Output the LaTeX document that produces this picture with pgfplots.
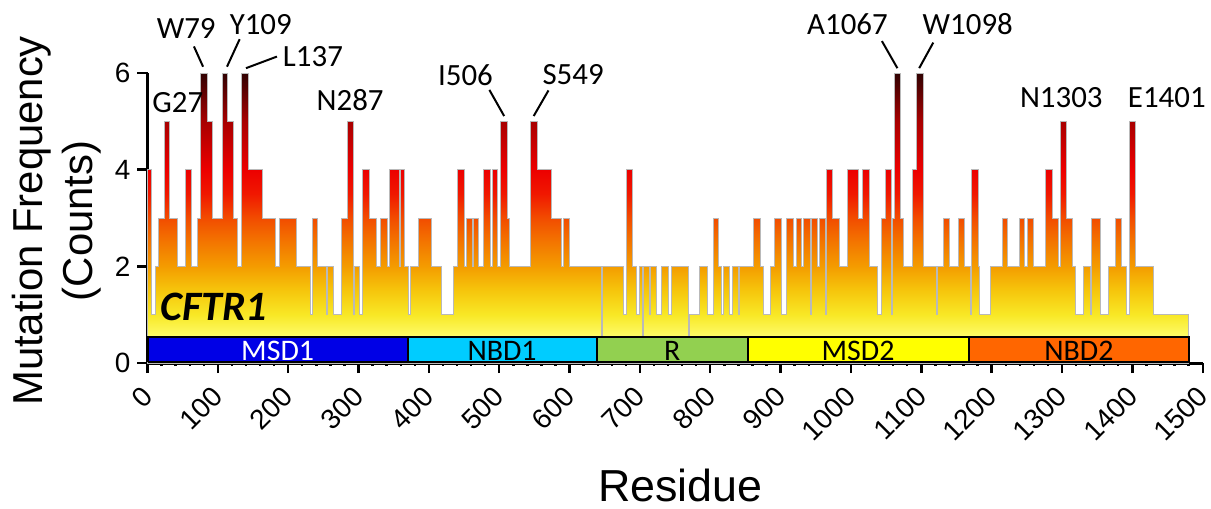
\documentclass[border=0pt]{standalone}
\usepackage{fontspec}
\setmainfont{Liberation Sans}
\newfontfamily\calfont{Carlito}
\usepackage{pgfplots}
\pgfplotsset{compat=1.18}
\usetikzlibrary{calc}

\definecolor{h0}{RGB}{255,255,115}
\definecolor{h1}{RGB}{248,232,38}
\definecolor{h15}{RGB}{246,198,12}
\definecolor{h2}{RGB}{244,156,0}
\definecolor{h25}{RGB}{243,118,0}
\definecolor{h3}{RGB}{242,76,0}
\definecolor{h35}{RGB}{240,24,0}
\definecolor{h4}{RGB}{236,0,0}
\definecolor{h5}{RGB}{168,0,0}
\definecolor{h6}{RGB}{48,2,2}
\definecolor{dmsd1}{RGB}{0,0,230}
\definecolor{dnbd1}{RGB}{0,204,255}
\definecolor{dr}{RGB}{146,208,80}
\definecolor{dmsd2}{RGB}{255,255,0}
\definecolor{dnbd2}{RGB}{255,102,0}

% shading spans y = 0..6 of the area (inner 25bp..75bp)
\pgfdeclareverticalshading{heat}{100bp}{color(0bp)=(h0); color(25bp)=(h0);
  color(29bp)=(h0); color(33.33bp)=(h1); color(37.5bp)=(h15); color(41.67bp)=(h2);
  color(45.83bp)=(h25); color(50bp)=(h3); color(54.17bp)=(h35); color(58.33bp)=(h4);
  color(66.67bp)=(h5); color(75bp)=(h6); color(100bp)=(h6)}

\begin{document}
\begin{tikzpicture}
\begin{axis}[
    scale only axis,
    width=527.6bp, height=145bp,
    xmin=0, xmax=1500, ymin=0, ymax=6,
    axis lines=left,
    axis line style={-, line width=1.5bp},
    every tick/.style={black, line width=1.2bp},
    tick align=outside,
    major tick length=5bp,
    minor x tick num=4,
    minor tick length=1.5bp,
    xtick={0,100,...,1500},
    ytick={0,2,4,6},
    clip=false,
    /pgf/number format/assume math mode=true,
    /pgf/number format/1000 sep={},
    tick label style={font=\fontsize{14}{14}\selectfont},
    xticklabel style={rotate=45, anchor=north east, inner sep=1.5bp, xshift=-5bp},
    xlabel={Residue},
    xlabel style={font=\fontsize{22.5}{24}\selectfont, at={(rel axis cs:0.505,-0.421)}, anchor=center},
    ylabel={Mutation Frequency\\(Counts)},
    ylabel style={font=\fontsize{21}{25}\selectfont, align=center, at={(rel axis cs:-0.0858,0.49)}, anchor=center},
]
\coordinate (O) at (axis cs:0,0);

\addplot[const plot, draw=gray!55, line width=0.5bp, shading=heat] coordinates {
(0,4) (6,1) (11,2) (15,3) (24,5) (31,3) (43,2) (54,4) (62,2) (71,3) (76,6) (85,5)
(93,3) (106,6) (114,5) (122,3) (128,2) (133,6) (144,4) (163,3) (182,2) (188,3)
(212,2) (232,1) (234,3) (242,2) (254,1) (256,2) (264,1) (276,3) (284,5) (293,1)
(294,2) (302,1) (306,4) (315,3) (325,2) (331,3) (341,2) (344,4) (358,2) (359,4)
(366,2) (371,1) (374,2) (385,3) (404,2) (418,1) (435,2) (441,4) (450,2) (453,3)
(462,2) (464,3) (471,2) (477,4) (487,2) (490,4) (498,2) (502,5) (512,3) (514,2)
(544,5) (555,4) (575,3) (588,2) (591,3) (600,2) (646,0.5) (647,2) (677,1) (681,4)
(689,2) (695,1) (699,2) (703,0.5) (705,2) (713,1) (715,2) (723,1) (730,2) (740,1)
(745,2) (769,0.5) (770,1) (785,2) (796,1) (804,3) (812,2) (816,1) (819,2) (827,1)
(831,2) (840,1) (842,2) (861,3) (871,2) (875,1) (885,2) (892,3) (901,1) (908,3)
(918,2) (922,3) (930,2) (933,3) (943,1) (944,3) (952,2) (955,3) (964,1) (965,4)
(974,3) (983,2) (995,4) (1011,3) (1017,4) (1027,2) (1038,1) (1043,3) (1049,4)
(1058,1) (1059,3) (1062,6) (1071,3) (1075,2) (1088,4) (1093,6) (1103,2) (1122,1)
(1123,2) (1132,3) (1140,2) (1153,3) (1162,2) (1170,1) (1171,4) (1181,2) (1183,1)
(1199,2) (1215,3) (1223,2) (1239,3) (1247,2) (1251,3) (1259,2) (1277,4) (1286,3)
(1295,2) (1298,5) (1307,3) (1315,2) (1319,1) (1331,2) (1340,1) (1342,3) (1355,1)
(1366,2) (1376,3) (1385,2) (1392,1) (1396,5) (1405,2) (1430,1) (1480,1)
} \closedcycle;

% domain bars
\addplot[fill=dmsd1, draw=black, line width=1bp] coordinates {(0,0.03) (370,0.03) (370,0.54) (0,0.54) (0,0.03)};
\addplot[fill=dnbd1, draw=black, line width=1bp] coordinates {(370,0.03) (639,0.03) (639,0.54) (370,0.54) (370,0.03)};
\addplot[fill=dr, draw=black, line width=1bp] coordinates {(639,0.03) (853,0.03) (853,0.54) (639,0.54) (639,0.03)};
\addplot[fill=dmsd2, draw=black, line width=1bp] coordinates {(853,0.03) (1168,0.03) (1168,0.54) (853,0.54) (853,0.03)};
\addplot[fill=dnbd2, draw=black, line width=1bp] coordinates {(1168,0.03) (1480,0.03) (1480,0.54) (1168,0.54) (1168,0.03)};

\begin{scope}[every node/.style={font=\calfont\fontsize{15}{15}\selectfont, inner sep=0pt}]
\node[text=white] at (axis cs:185,0.26) {MSD1};
\node at (axis cs:504,0.26) {NBD1};
\node at (axis cs:746,0.26) {R};
\node at (axis cs:1010,0.26) {MSD2};
\node at (axis cs:1324,0.26) {NBD2};
\end{scope}

\node[font=\calfont\bfseries\itshape\fontsize{21}{21}\selectfont, anchor=west, inner sep=0pt] at (axis cs:18,1.15) {CFTR1};

% peak labels
\begin{scope}[every node/.style={font=\calfont\fontsize{15.5}{16}\selectfont, inner sep=0pt}]
\node at (axis cs:43,5.38) {G27};
\node at (axis cs:55,6.92) {W79};
\node at (axis cs:161,7.0) {Y109};
\node[anchor=west] at (axis cs:192,6.33) {L137};
\node at (axis cs:288,5.45) {N287};
\node at (axis cs:452,5.96) {I506};
\node at (axis cs:605,5.96) {S549};
\node at (axis cs:995,7.02) {A1067};
\node at (axis cs:1166,7.02) {W1098};
\node at (axis cs:1299,5.49) {N1303};
\node at (axis cs:1449,5.49) {E1401};
\end{scope}
\begin{scope}[line width=1bp]
\draw (axis cs:66,6.55) -- (axis cs:79,6.13);
\draw (axis cs:131,6.70) -- (axis cs:113,6.13);
\draw (axis cs:184,6.34) -- (axis cs:140,6.10);
\draw (axis cs:486,5.65) -- (axis cs:507,5.11);
\draw (axis cs:570,5.64) -- (axis cs:549,5.11);
\draw (axis cs:1044,6.66) -- (axis cs:1066,6.10);
\draw (axis cs:1117,6.63) -- (axis cs:1097,6.10);
\end{scope}
\end{axis}
\pgfresetboundingbox
\path ($(O)+(-73.75bp,-73bp)$) rectangle ($(O)+(531.75bp,181.5bp)$);
\end{tikzpicture}
\end{document}
